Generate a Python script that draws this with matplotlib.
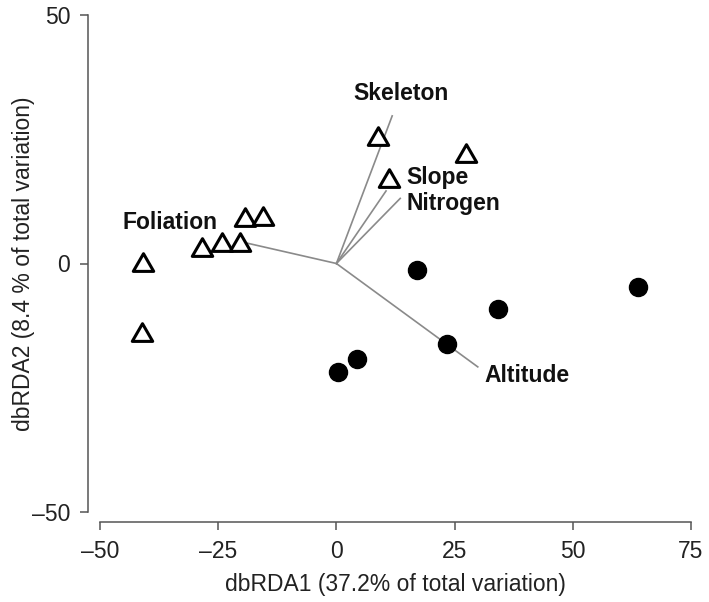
import matplotlib
matplotlib.use("Agg")
import matplotlib.pyplot as plt
from matplotlib.path import Path
import numpy as np

plt.rcParams['font.family'] = ['Liberation Sans', 'DejaVu Sans']

# site scores, group 1 (open triangles)
tri_x = [-40.8, -41.1, -28.5, -24.2, -20.4, -19.3, -15.6, 8.9, 11.1, 27.4]
tri_y = [-0.3, -14.4, 2.7, 3.7, 3.7, 8.8, 8.9, 25.0, 16.5, 21.6]

# site scores, group 2 (filled circles)
dot_x = [17.0, 34.1, 63.8, 23.4, 4.4, 0.4]
dot_y = [-1.4, -9.2, -4.7, -16.1, -19.2, -21.8]

# environmental vectors
vec_names = ['Skeleton', 'Slope', 'Nitrogen', 'Foliation', 'Altitude']
vec_x = [11.8, 10.5, 13.5, -18.9, 29.9]
vec_y = [29.7, 14.6, 13.1, 4.1, -20.8]

# label anchors (data units)
lab_x = [3.6, 14.9, 14.9, -35.3, 31.3]
lab_y = [32.8, 16.0, 10.8, 6.9, -23.8]
lab_ha = ['left', 'left', 'left', 'center', 'left']

x_ticks = [-50, -25, 0, 25, 50, 75]
y_ticks = [-50, 0, 50]

W, H = 709, 602
fig = plt.figure(figsize=(W / 100, H / 100), dpi=100)
ax = fig.add_axes([100 / W, 1 - 512 / H, 591 / W, 497 / H])

for name, vx, vy in zip(vec_names, vec_x, vec_y):
    ax.plot([0, vx], [0, vy], color='#8a8a8a', lw=1.2, zorder=1)

# equilateral triangle like R's pch=2
tri = Path([(0, 0.667), (-0.577, -0.333), (0.577, -0.333), (0, 0.667)],
           [Path.MOVETO, Path.LINETO, Path.LINETO, Path.CLOSEPOLY])
ax.plot(tri_x, tri_y, ls='none', marker=tri, ms=17, mfc='white',
        mec='black', mew=2.2, zorder=3)
ax.plot(dot_x, dot_y, ls='none', marker='o', ms=13, mfc='black',
        mec='black', zorder=3)

for name, lx, ly, ha in zip(vec_names, lab_x, lab_y, lab_ha):
    ax.text(lx, ly, name, ha=ha, va='baseline', fontsize=16.5,
            fontweight='bold', color='#111111')

ax.set_xlim(-50, 75)
ax.set_ylim(-50, 50)
ax.set_xticks(x_ticks)
ax.set_yticks(y_ticks)
ax.set_xticklabels(['\u201350', '\u201325', '0', '25', '50', '75'])
ax.set_yticklabels(['\u201350', '0', '50'])

for s in ['top', 'right']:
    ax.spines[s].set_visible(False)
ax.spines['left'].set_position(('outward', 8.9))
ax.spines['bottom'].set_position(('outward', 7.4))
ax.spines['left'].set_bounds(-50, 50)
ax.spines['bottom'].set_bounds(-50, 75)
for s in ['left', 'bottom']:
    ax.spines[s].set_color('#555555')
    ax.spines[s].set_linewidth(1.1)
ax.tick_params(length=5.5, width=1.1, color='#555555', labelsize=16.5,
               labelcolor='#222222', pad=7)

ax.set_xlabel('dbRDA1 (37.2% of total variation)', fontsize=16.5, color='#222222')
ax.set_ylabel('dbRDA2 (8.4 % of total variation)', fontsize=16.5, color='#222222')
ax.xaxis.set_label_coords(395.5 / W, 1 - 585 / H, transform=fig.transFigure)
ax.yaxis.set_label_coords(24 / W, 1 - 263.5 / H, transform=fig.transFigure)
ax.xaxis.label.set_va('center')
ax.yaxis.label.set_va('center')

fig.savefig('out.png', dpi=100)
